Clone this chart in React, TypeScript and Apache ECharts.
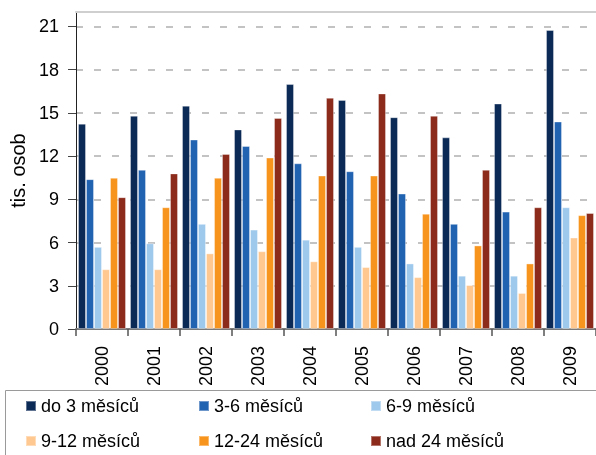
import React, { useEffect, useRef } from "react";
import * as echarts from "echarts";

const years = ["2000", "2001", "2002", "2003", "2004", "2005", "2006", "2007", "2008", "2009"];
const seriesNames = ["do 3 měsíců", "3-6 měsíců", "6-9 měsíců", "9-12 měsíců", "12-24 měsíců", "nad 24 měsíců"];
const do3 = [14.25, 14.8, 15.5, 13.85, 17.0, 15.9, 14.7, 13.3, 15.65, 20.75];
const m3to6 = [10.4, 11.05, 13.15, 12.7, 11.5, 10.95, 9.4, 7.3, 8.15, 14.4];
const m6to9 = [5.7, 5.95, 7.3, 6.9, 6.2, 5.7, 4.55, 3.7, 3.7, 8.45];
const m9to12 = [4.15, 4.15, 5.25, 5.4, 4.7, 4.3, 3.6, 3.05, 2.5, 6.35];
const m12to24 = [10.5, 8.45, 10.5, 11.9, 10.65, 10.65, 8.0, 5.8, 4.55, 7.9];
const nad24 = [9.15, 10.8, 12.15, 14.65, 16.05, 16.35, 14.8, 11.05, 8.45, 8.05];
const seriesValues = [do3, m3to6, m6to9, m9to12, m12to24, nad24];
const colors = ["#0b2a56", "#2162b1", "#9ec8ec", "#ffc891", "#f7941d", "#8c2a1b"];

const FONT = "Liberation Sans, Arial, sans-serif";

export default function App() {
  const ref = useRef<HTMLDivElement>(null);
  useEffect(() => {
    if (!ref.current) return;
    const chart = echarts.init(ref.current, null, { renderer: "svg" });
    const legendPos = [
      [25, 397], [198, 397], [370, 397],
      [25, 432], [198, 432], [370, 432],
    ];
    chart.setOption({
      animation: false,
      textStyle: { fontFamily: FONT, color: "#000" },
      grid: { left: 76, right: 0, top: 12, bottom: 126, containLabel: false },
      xAxis: [
        {
          type: "category",
          data: years,
          axisLine: { lineStyle: { color: "#7a7a7a", width: 2 } },
          axisTick: { show: true, length: 7, lineStyle: { color: "#555", width: 1.5 } },
          axisLabel: { rotate: 90, fontSize: 18, color: "#000", margin: 17, fontFamily: FONT },
        },
        {
          type: "category",
          data: years,
          position: "top",
          axisLine: { lineStyle: { color: "#cfcfcf", width: 2 } },
          axisTick: { show: false },
          axisLabel: { show: false },
        },
      ],
      yAxis: {
        type: "value",
        min: 0,
        max: 22,
        interval: 3,
        name: "tis. osob",
        nameLocation: "middle",
        nameGap: 34,
        nameTextStyle: { fontSize: 20, color: "#000", fontFamily: FONT },
        axisLine: { show: true, lineStyle: { color: "#222", width: 1 } },
        axisTick: { show: true, length: 8, lineStyle: { color: "#444" } },
        axisLabel: { fontSize: 18, color: "#000", margin: 17, showMaxLabel: false, fontFamily: FONT },
        splitLine: { show: true, lineStyle: { color: "#b0b0b0", width: 1.5, type: [7, 11] } },
      },
      legend: legendPos.map((p, i) => ({
        left: p[0],
        top: p[1],
        padding: 0,
        data: [seriesNames[i]],
        icon: "rect",
        itemWidth: 10,
        itemHeight: 10,
        itemGap: 6,
        textStyle: { fontSize: 18, color: "#000", fontFamily: FONT },
        selectedMode: false,
      })),
      graphic: [
        {
          type: "rect",
          shape: { x: 5.5, y: 390.5, width: 620, height: 120 },
          style: { fill: "none", stroke: "#9a9a9a", lineWidth: 1 },
          silent: true,
        },
      ],
      series: seriesNames.map((n, i) => ({
        type: "bar",
        name: n,
        data: seriesValues[i],
        barWidth: 8,
        barGap: "0%",
        itemStyle: {
          color: colors[i],
          borderColor: "rgba(255,255,255,0.35)",
          borderWidth: 1,
        },
      })),
    });
    return () => chart.dispose();
  }, []);
  return (
    <div
      ref={ref}
      style={{ position: "fixed", left: 0, top: 0, width: 596, height: 455 }}
    />
  );
}
